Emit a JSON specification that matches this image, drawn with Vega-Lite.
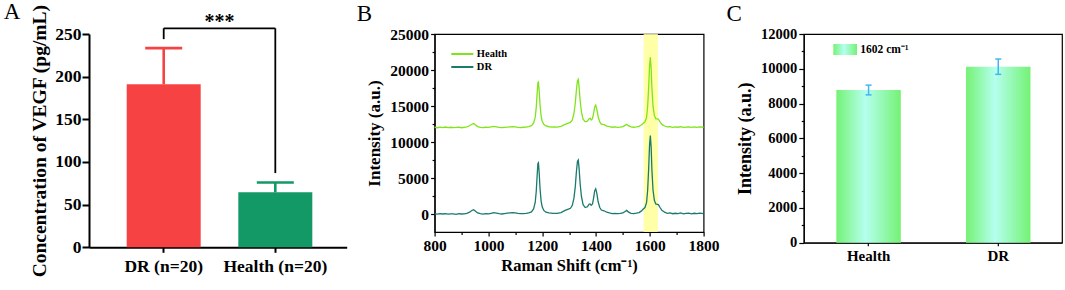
{
  "$schema": "https://vega.github.io/schema/vega-lite/v6.json",
  "padding": {"left": 3, "top": 0, "right": 0, "bottom": 0},
  "bounds": "flush",
  "spacing": 87.6,
  "resolve": {"scale": {"x": "independent", "y": "independent", "color": "independent"}, "axis": {"x": "independent", "y": "independent"}, "legend": {"color": "independent"}},
  "config": {
    "font": "Liberation Serif",
    "axis": {"labelFont": "Liberation Serif", "titleFont": "Liberation Serif", "labelFontWeight": "bold", "titleFontWeight": "bold", "labelColor": "black", "titleColor": "black", "domainColor": "black", "tickColor": "black", "grid": false},
    "title": {"font": "Liberation Serif", "fontWeight": "normal", "fontSize": 23, "anchor": "start", "frame": "bounds", "color": "black"},
    "text": {"font": "Liberation Serif"}
  },
  "datasets": {
    "vegf": [
      {"g": "DR (n=20)", "m": 191, "hi": 233.5},
      {"g": "Health (n=20)", "m": 64.5, "hi": 76}
    ],
    "bracket": [
      {"a": "DR (n=20)", "b": "DR (n=20)", "y1": 244, "y2": 256.7},
      {"a": "DR (n=20)", "b": "Health (n=20)", "y1": 256.7, "y2": 256.7},
      {"a": "Health (n=20)", "b": "Health (n=20)", "y1": 87, "y2": 256.7}
    ],
    "sig": [{"g": "DR (n=20)", "y": 256.7, "t": "***"}],
    "band": [{"x1": 1577, "x2": 1630}],
    "bleg": [
      {"series": "Health", "x1": 862, "x2": 944, "y": 22222, "tx": 957},
      {"series": "DR", "x1": 862, "x2": 944, "y": 20417, "tx": 957}
    ],
    "spec": [
      {"x":800,"Health":12050,"DR":20},{"x":810,"Health":11980,"DR":-30},{"x":820,"Health":12060,"DR":40},{"x":830,"Health":12010,"DR":0},{"x":840,"Health":12080,"DR":60},{"x":850,"Health":12000,"DR":-20},{"x":860,"Health":12050,"DR":30},{"x":870,"Health":11990,"DR":10},{"x":880,"Health":12020,"DR":-40},{"x":890,"Health":12060,"DR":50},{"x":900,"Health":11980,"DR":0},{"x":910,"Health":12040,"DR":30},{"x":920,"Health":12090,"DR":80},{"x":930,"Health":12260,"DR":250},{"x":940,"Health":12500,"DR":520},{"x":945,"Health":12560,"DR":600},{"x":950,"Health":12420,"DR":450},{"x":960,"Health":12140,"DR":150},{"x":970,"Health":12030,"DR":40},{"x":980,"Health":11990,"DR":-20},{"x":990,"Health":12050,"DR":60},{"x":1000,"Health":12020,"DR":20},{"x":1010,"Health":12100,"DR":100},{"x":1020,"Health":12180,"DR":180},{"x":1030,"Health":12110,"DR":120},{"x":1040,"Health":12030,"DR":40},{"x":1050,"Health":11990,"DR":0},{"x":1060,"Health":12040,"DR":60},{"x":1070,"Health":12080,"DR":120},{"x":1080,"Health":12100,"DR":160},{"x":1090,"Health":12140,"DR":200},{"x":1100,"Health":12090,"DR":150},{"x":1110,"Health":12040,"DR":80},{"x":1120,"Health":12010,"DR":40},{"x":1130,"Health":12050,"DR":60},{"x":1140,"Health":12070,"DR":100},{"x":1150,"Health":12130,"DR":150},{"x":1160,"Health":12280,"DR":300},{"x":1168,"Health":12620,"DR":700},{"x":1174,"Health":13420,"DR":1600},{"x":1178,"Health":14850,"DR":3200},{"x":1181,"Health":16630,"DR":5200},{"x":1184,"Health":18230,"DR":7000},{"x":1186,"Health":18320,"DR":7100},{"x":1189,"Health":16980,"DR":5600},{"x":1192,"Health":15120,"DR":3500},{"x":1196,"Health":13600,"DR":1800},{"x":1200,"Health":12890,"DR":1000},{"x":1206,"Health":12450,"DR":500},{"x":1214,"Health":12230,"DR":250},{"x":1225,"Health":12120,"DR":150},{"x":1240,"Health":12080,"DR":100},{"x":1255,"Health":12070,"DR":80},{"x":1270,"Health":12170,"DR":200},{"x":1285,"Health":12440,"DR":500},{"x":1295,"Health":12580,"DR":650},{"x":1305,"Health":12710,"DR":800},{"x":1312,"Health":13070,"DR":1200},{"x":1318,"Health":13960,"DR":2200},{"x":1323,"Health":15380,"DR":3800},{"x":1327,"Health":17160,"DR":5800},{"x":1331,"Health":18500,"DR":7300},{"x":1334,"Health":18700,"DR":7500},{"x":1337,"Health":17700,"DR":6400},{"x":1341,"Health":15740,"DR":4200},{"x":1346,"Health":14140,"DR":2400},{"x":1352,"Health":13160,"DR":1300},{"x":1360,"Health":12800,"DR":900},{"x":1368,"Health":12890,"DR":1000},{"x":1374,"Health":13200,"DR":1350},{"x":1378,"Health":13300,"DR":1400},{"x":1382,"Health":13070,"DR":1200},{"x":1387,"Health":13250,"DR":1400},{"x":1391,"Health":13960,"DR":2200},{"x":1395,"Health":14850,"DR":3200},{"x":1399,"Health":15120,"DR":3500},{"x":1403,"Health":14580,"DR":2900},{"x":1408,"Health":13510,"DR":1700},{"x":1414,"Health":12800,"DR":900},{"x":1420,"Health":12490,"DR":550},{"x":1430,"Health":12400,"DR":450},{"x":1440,"Health":12220,"DR":250},{"x":1450,"Health":12130,"DR":150},{"x":1460,"Health":12050,"DR":60},{"x":1470,"Health":12090,"DR":100},{"x":1480,"Health":12040,"DR":50},{"x":1490,"Health":12070,"DR":80},{"x":1500,"Health":12130,"DR":150},{"x":1508,"Health":12310,"DR":350},{"x":1514,"Health":12450,"DR":500},{"x":1520,"Health":12270,"DR":300},{"x":1530,"Health":12090,"DR":100},{"x":1540,"Health":12050,"DR":60},{"x":1550,"Health":12110,"DR":120},{"x":1560,"Health":12180,"DR":200},{"x":1568,"Health":12360,"DR":400},{"x":1575,"Health":12580,"DR":650},{"x":1582,"Health":12800,"DR":900},{"x":1588,"Health":13420,"DR":1600},{"x":1592,"Health":14940,"DR":3300},{"x":1596,"Health":17790,"DR":6500},{"x":1599,"Health":20460,"DR":9500},{"x":1602,"Health":21750,"DR":10900},{"x":1605,"Health":20280,"DR":9300},{"x":1608,"Health":17340,"DR":6000},{"x":1612,"Health":14940,"DR":3300},{"x":1617,"Health":13690,"DR":1900},{"x":1622,"Health":13250,"DR":1400},{"x":1628,"Health":13200,"DR":1350},{"x":1632,"Health":13160,"DR":1300},{"x":1638,"Health":12800,"DR":900},{"x":1645,"Health":12440,"DR":500},{"x":1655,"Health":12220,"DR":250},{"x":1665,"Health":12090,"DR":100},{"x":1675,"Health":12130,"DR":150},{"x":1685,"Health":12030,"DR":40},{"x":1695,"Health":12090,"DR":100},{"x":1705,"Health":12050,"DR":60},{"x":1715,"Health":12130,"DR":150},{"x":1725,"Health":12020,"DR":20},{"x":1735,"Health":12070,"DR":80},{"x":1745,"Health":12110,"DR":120},{"x":1755,"Health":12030,"DR":30},{"x":1765,"Health":12090,"DR":100},{"x":1775,"Health":12040,"DR":50},{"x":1785,"Health":12110,"DR":120},{"x":1800,"Health":12050,"DR":60}
    ],
    "cbar": [
      {"g": "Health", "m": 8780, "lo": 8500, "hi": 9060},
      {"g": "DR", "m": 10120, "lo": 9680, "hi": 10560}
    ],
    "cleg": [{"g": "Health", "y1": 10792, "y2": 11425, "ty": 11108, "t": "1602 cm⁻¹"}]
  },
  "hconcat": [
    {
      "width": 257.7,
      "height": 213.3,
      "title": {"text": "A", "dx": -26, "dy": 24},
      "view": {"stroke": null},
      "layer": [
        {
          "data": {"name": "vegf"},
          "mark": {"type": "bar"},
          "encoding": {
            "x": {"field": "g", "type": "nominal", "sort": null,
              "scale": {"domain": ["DR (n=20)", "Health (n=20)"], "paddingInner": 0.337, "paddingOuter": 0.323, "align": 0.523},
              "axis": {"title": null, "labelAngle": 0, "labelFontSize": 17.5, "tickSize": 5, "tickWidth": 2, "domainWidth": 2, "labelPadding": 5}},
            "y": {"field": "m", "type": "quantitative",
              "scale": {"domain": [0, 250], "nice": false},
              "axis": {"title": "Concentration of VEGF (pg/mL)", "titleFontSize": 19.5, "labelFontSize": 17.5, "values": [0, 50, 100, 150, 200, 250], "tickSize": 7, "tickWidth": 2, "domainWidth": 2, "labelPadding": 1, "titlePadding": 5}},
            "color": {"field": "g", "type": "nominal", "scale": {"domain": ["DR (n=20)", "Health (n=20)"], "range": ["#F74244", "#129966"]}, "legend": null}
          }
        },
        {
          "data": {"name": "vegf"},
          "mark": {"type": "rule", "strokeWidth": 2.6},
          "encoding": {
            "x": {"field": "g", "type": "nominal"},
            "y": {"field": "m", "type": "quantitative"},
            "y2": {"field": "hi"},
            "color": {"field": "g", "type": "nominal"}
          }
        },
        {
          "data": {"name": "vegf"},
          "mark": {"type": "tick", "size": 37, "thickness": 2.6, "opacity": 1},
          "encoding": {
            "x": {"field": "g", "type": "nominal"},
            "y": {"field": "hi", "type": "quantitative"},
            "color": {"field": "g", "type": "nominal"}
          }
        },
        {
          "data": {"name": "bracket"},
          "mark": {"type": "rule", "strokeWidth": 1.8, "color": "black"},
          "encoding": {
            "x": {"field": "a", "type": "nominal", "bandPosition": 0.5},
            "x2": {"field": "b", "bandPosition": 0.5},
            "y": {"field": "y1", "type": "quantitative"},
            "y2": {"field": "y2"}
          }
        },
        {
          "data": {"name": "sig"},
          "mark": {"type": "text", "fontSize": 20, "fontWeight": "bold", "baseline": "alphabetic", "align": "center", "color": "black"},
          "encoding": {
            "x": {"field": "g", "type": "nominal", "bandPosition": 1.253},
            "y": {"field": "y", "type": "quantitative"},
            "text": {"field": "t"}
          }
        }
      ]
    },
    {
      "bounds": "flush",
      "spacing": 100.2,
      "resolve": {"scale": {"x": "independent", "y": "independent", "color": "independent"}, "axis": {"x": "independent", "y": "independent"}, "legend": {"color": "independent"}},
      "hconcat": [
        {
          "width": 269,
          "height": 198,
          "title": {"text": "B", "dx": -9, "dy": 3},
          "view": {"stroke": "black", "strokeWidth": 1.2},
          "layer": [
            {
              "data": {"name": "band"},
              "mark": {"type": "rect", "color": "#FFFF99", "opacity": 0.85},
              "encoding": {
                "x": {"field": "x1", "type": "quantitative", "scale": {"domain": [800, 1800], "nice": false, "zero": false},
                  "axis": {"title": "Raman Shift (cm⁻¹)", "titleFontSize": 16.5, "labelFontSize": 15.5, "values": [800, 900, 1000, 1100, 1200, 1300, 1400, 1500, 1600, 1700, 1800], "labelExpr": "datum.value % 200 === 0 ? datum.label : ''", "format": "d", "labelFlush": false, "labelOverlap": false, "tickSize": {"condition": {"test": "datum.value % 200 === 0", "value": 4}, "value": 2.5}, "tickWidth": 1.2, "domainWidth": 1.2, "labelPadding": 2, "titlePadding": 4}},
                "x2": {"field": "x2"}
              }
            },
            {
              "data": {"name": "spec"},
              "transform": [{"fold": ["Health", "DR"], "as": ["series", "I"]}],
              "mark": {"type": "line", "strokeWidth": 1.3},
              "encoding": {
                "x": {"field": "x", "type": "quantitative",
                  "scale": {"domain": [800, 1800], "nice": false, "zero": false},
                  "axis": {"title": "Raman Shift (cm⁻¹)", "titleFontSize": 16.5, "labelFontSize": 15.5, "values": [800, 900, 1000, 1100, 1200, 1300, 1400, 1500, 1600, 1700, 1800], "labelExpr": "datum.value % 200 === 0 ? datum.label : ''", "format": "d", "labelFlush": false, "labelOverlap": false, "tickSize": {"condition": {"test": "datum.value % 200 === 0", "value": 4}, "value": 2.5}, "tickWidth": 1.2, "domainWidth": 1.2, "labelPadding": 2, "titlePadding": 4}},
                "y": {"field": "I", "type": "quantitative",
                  "scale": {"domain": [-2500, 25000], "nice": false, "zero": false},
                  "axis": {"title": "Intensity (a.u.)", "titleFontSize": 17, "labelFontSize": 15.5, "values": [0, 2500, 5000, 7500, 10000, 12500, 15000, 17500, 20000, 22500, 25000], "labelExpr": "datum.value % 5000 === 0 ? datum.label : ''", "format": "d", "labelOverlap": false, "tickSize": {"condition": {"test": "datum.value % 5000 === 0", "value": 4}, "value": 2.5}, "tickWidth": 1.2, "domainWidth": 1.2, "labelPadding": 2, "titlePadding": 6}},
                "color": {"field": "series", "type": "nominal",
                  "scale": {"domain": ["Health", "DR"], "range": ["#80E41A", "#1A7A6C"]},
                  "legend": null}
              }
            },
            {
              "data": {"name": "bleg"},
              "mark": {"type": "rule", "strokeWidth": 2},
              "encoding": {
                "x": {"field": "x1", "type": "quantitative", "scale": {"domain": [800, 1800], "nice": false, "zero": false},
                  "axis": {"title": "Raman Shift (cm⁻¹)", "titleFontSize": 16.5, "labelFontSize": 15.5, "values": [800, 900, 1000, 1100, 1200, 1300, 1400, 1500, 1600, 1700, 1800], "labelExpr": "datum.value % 200 === 0 ? datum.label : ''", "format": "d", "labelFlush": false, "labelOverlap": false, "tickSize": {"condition": {"test": "datum.value % 200 === 0", "value": 4}, "value": 2.5}, "tickWidth": 1.2, "domainWidth": 1.2, "labelPadding": 2, "titlePadding": 4}},
                "x2": {"field": "x2"},
                "y": {"field": "y", "type": "quantitative", "scale": {"domain": [-2500, 25000], "nice": false, "zero": false},
                  "axis": {"title": "Intensity (a.u.)", "titleFontSize": 17, "labelFontSize": 15.5, "values": [0, 2500, 5000, 7500, 10000, 12500, 15000, 17500, 20000, 22500, 25000], "labelExpr": "datum.value % 5000 === 0 ? datum.label : ''", "format": "d", "labelOverlap": false, "tickSize": {"condition": {"test": "datum.value % 5000 === 0", "value": 4}, "value": 2.5}, "tickWidth": 1.2, "domainWidth": 1.2, "labelPadding": 2, "titlePadding": 6}},
                "color": {"field": "series", "type": "nominal", "legend": null}
              }
            },
            {
              "data": {"name": "bleg"},
              "mark": {"type": "text", "align": "left", "baseline": "middle", "fontSize": 10.5, "fontWeight": "bold", "color": "black"},
              "encoding": {
                "x": {"field": "tx", "type": "quantitative", "scale": {"domain": [800, 1800], "nice": false, "zero": false},
                  "axis": {"title": "Raman Shift (cm⁻¹)", "titleFontSize": 16.5, "labelFontSize": 15.5, "values": [800, 900, 1000, 1100, 1200, 1300, 1400, 1500, 1600, 1700, 1800], "labelExpr": "datum.value % 200 === 0 ? datum.label : ''", "format": "d", "labelFlush": false, "labelOverlap": false, "tickSize": {"condition": {"test": "datum.value % 200 === 0", "value": 4}, "value": 2.5}, "tickWidth": 1.2, "domainWidth": 1.2, "labelPadding": 2, "titlePadding": 4}},
                "y": {"field": "y", "type": "quantitative", "scale": {"domain": [-2500, 25000], "nice": false, "zero": false},
                  "axis": {"title": "Intensity (a.u.)", "titleFontSize": 17, "labelFontSize": 15.5, "values": [0, 2500, 5000, 7500, 10000, 12500, 15000, 17500, 20000, 22500, 25000], "labelExpr": "datum.value % 5000 === 0 ? datum.label : ''", "format": "d", "labelOverlap": false, "tickSize": {"condition": {"test": "datum.value % 5000 === 0", "value": 4}, "value": 2.5}, "tickWidth": 1.2, "domainWidth": 1.2, "labelPadding": 2, "titlePadding": 6}},
                "text": {"field": "series"}
              }
            }
          ]
        },
        {
          "width": 258.2,
          "height": 208.7,
          "title": {"text": "C", "dx": -10, "dy": 4},
          "view": {"stroke": "black", "strokeWidth": 1.2},
          "layer": [
            {
              "data": {"name": "cbar"},
              "mark": {"type": "bar", "color": {"gradient": "linear", "x1": 0, "y1": 0, "x2": 1, "y2": 0, "stops": [{"offset": 0, "color": "#74F274"}, {"offset": 0.45, "color": "#B5FFEF"}, {"offset": 1, "color": "#74F274"}]}},
              "encoding": {
                "x": {"field": "g", "type": "nominal", "sort": null,
                  "scale": {"domain": ["Health", "DR"], "paddingInner": 0.503, "paddingOuter": 0.247, "align": 0.508},
                  "axis": {"title": null, "labelAngle": 0, "labelFontSize": 15, "tickSize": 3, "tickWidth": 1.2, "domainWidth": 1.2, "labelPadding": 3}},
                "y": {"field": "m", "type": "quantitative",
                  "scale": {"domain": [0, 12000], "nice": false},
                  "axis": {"title": "Intensity (a.u.)", "titleFontSize": 18, "labelFontSize": 14.5, "values": [0, 1000, 2000, 3000, 4000, 5000, 6000, 7000, 8000, 9000, 10000, 11000, 12000], "labelExpr": "datum.value % 2000 === 0 ? datum.label : ''", "format": "d", "labelOverlap": false, "tickSize": {"condition": {"test": "datum.value % 2000 === 0", "value": 5}, "value": 2.5}, "tickWidth": 1.2, "domainWidth": 1.2, "labelPadding": 2, "titlePadding": 6}}
              }
            },
            {
              "data": {"name": "cbar"},
              "mark": {"type": "rule", "strokeWidth": 1.5, "color": "#45B4F0"},
              "encoding": {
                "x": {"field": "g", "type": "nominal", "sort": null},
                "y": {"field": "lo", "type": "quantitative",
                  "axis": {"title": "Intensity (a.u.)", "titleFontSize": 18, "labelFontSize": 14.5, "values": [0, 1000, 2000, 3000, 4000, 5000, 6000, 7000, 8000, 9000, 10000, 11000, 12000], "labelExpr": "datum.value % 2000 === 0 ? datum.label : ''", "format": "d", "labelOverlap": false, "tickSize": {"condition": {"test": "datum.value % 2000 === 0", "value": 5}, "value": 2.5}, "tickWidth": 1.2, "domainWidth": 1.2, "labelPadding": 2, "titlePadding": 6}},
                "y2": {"field": "hi"}
              }
            },
            {
              "data": {"name": "cbar"},
              "mark": {"type": "tick", "size": 6, "thickness": 1.5, "color": "#45B4F0", "opacity": 1},
              "encoding": {
                "x": {"field": "g", "type": "nominal", "sort": null},
                "y": {"field": "lo", "type": "quantitative",
                  "axis": {"title": "Intensity (a.u.)", "titleFontSize": 18, "labelFontSize": 14.5, "values": [0, 1000, 2000, 3000, 4000, 5000, 6000, 7000, 8000, 9000, 10000, 11000, 12000], "labelExpr": "datum.value % 2000 === 0 ? datum.label : ''", "format": "d", "labelOverlap": false, "tickSize": {"condition": {"test": "datum.value % 2000 === 0", "value": 5}, "value": 2.5}, "tickWidth": 1.2, "domainWidth": 1.2, "labelPadding": 2, "titlePadding": 6}}
              }
            },
            {
              "data": {"name": "cbar"},
              "mark": {"type": "tick", "size": 6, "thickness": 1.5, "color": "#45B4F0", "opacity": 1},
              "encoding": {
                "x": {"field": "g", "type": "nominal", "sort": null},
                "y": {"field": "hi", "type": "quantitative",
                  "axis": {"title": "Intensity (a.u.)", "titleFontSize": 18, "labelFontSize": 14.5, "values": [0, 1000, 2000, 3000, 4000, 5000, 6000, 7000, 8000, 9000, 10000, 11000, 12000], "labelExpr": "datum.value % 2000 === 0 ? datum.label : ''", "format": "d", "labelOverlap": false, "tickSize": {"condition": {"test": "datum.value % 2000 === 0", "value": 5}, "value": 2.5}, "tickWidth": 1.2, "domainWidth": 1.2, "labelPadding": 2, "titlePadding": 6}}
              }
            },
            {
              "data": {"name": "cleg"},
              "mark": {"type": "rect", "color": {"gradient": "linear", "x1": 0, "y1": 0, "x2": 1, "y2": 0, "stops": [{"offset": 0, "color": "#74F274"}, {"offset": 0.45, "color": "#B5FFEF"}, {"offset": 1, "color": "#74F274"}]}},
              "encoding": {
                "x": {"field": "g", "type": "nominal", "sort": null, "bandPosition": -0.0465},
                "x2": {"field": "g", "bandPosition": 0.321},
                "y": {"field": "y1", "type": "quantitative",
                  "axis": {"title": "Intensity (a.u.)", "titleFontSize": 18, "labelFontSize": 14.5, "values": [0, 1000, 2000, 3000, 4000, 5000, 6000, 7000, 8000, 9000, 10000, 11000, 12000], "labelExpr": "datum.value % 2000 === 0 ? datum.label : ''", "format": "d", "labelOverlap": false, "tickSize": {"condition": {"test": "datum.value % 2000 === 0", "value": 5}, "value": 2.5}, "tickWidth": 1.2, "domainWidth": 1.2, "labelPadding": 2, "titlePadding": 6}},
                "y2": {"field": "y2"}
              }
            },
            {
              "data": {"name": "cleg"},
              "mark": {"type": "text", "align": "left", "baseline": "middle", "fontSize": 11.5, "fontWeight": "bold", "color": "black"},
              "encoding": {
                "x": {"field": "g", "type": "nominal", "sort": null, "bandPosition": 0.372},
                "y": {"field": "ty", "type": "quantitative",
                  "axis": {"title": "Intensity (a.u.)", "titleFontSize": 18, "labelFontSize": 14.5, "values": [0, 1000, 2000, 3000, 4000, 5000, 6000, 7000, 8000, 9000, 10000, 11000, 12000], "labelExpr": "datum.value % 2000 === 0 ? datum.label : ''", "format": "d", "labelOverlap": false, "tickSize": {"condition": {"test": "datum.value % 2000 === 0", "value": 5}, "value": 2.5}, "tickWidth": 1.2, "domainWidth": 1.2, "labelPadding": 2, "titlePadding": 6}},
                "text": {"field": "t"}
              }
            }
          ]
        }
      ]
    }
  ]
}
